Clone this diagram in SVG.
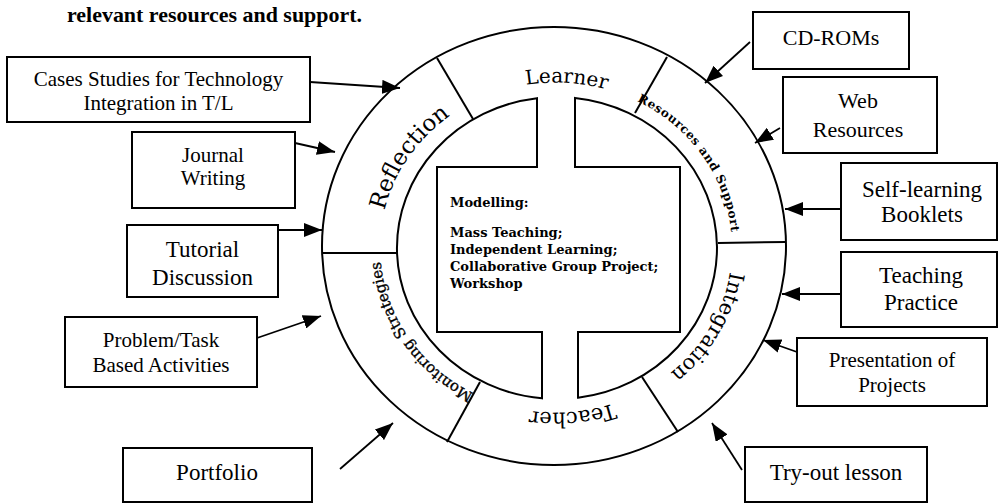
<svg xmlns="http://www.w3.org/2000/svg" xmlns:xlink="http://www.w3.org/1999/xlink" width="1000" height="503" viewBox="0 0 1000 503">
<style>
.box{fill:#fff;stroke:#000;stroke-width:2}
.bt{font-family:"Liberation Serif","Times New Roman",serif;text-anchor:middle;fill:#000}
.top{font-family:"Liberation Serif","Times New Roman",serif;font-weight:bold;font-size:21px;fill:#000}
.ring{font-family:"DejaVu Serif","Liberation Serif",serif;fill:#000}
.edge{fill:none;stroke:#000;stroke-width:2}
.conn line{stroke:#000;stroke-width:1.8;marker-end:url(#ah)}
.ct{font-family:"DejaVu Serif","Liberation Serif",serif;font-size:13px;font-weight:bold;fill:#000}
</style>
<defs>
<marker id="ah" markerUnits="userSpaceOnUse" markerWidth="18" markerHeight="14" refX="18" refY="7" orient="auto">
<path d="M0,0 L18,7 L0,14 Z" fill="#000"/>
</marker>
<path id="pLearner" d="M409.4,156.2 A176,165 0 0 1 713.6,174.1"/>
<path id="pReflection" d="M400.6,325 A176,165 0 0 1 562.1,82.6"/>
<path id="pResources" d="M546.8,82.7 A176,165 0 0 1 712.8,322.4"/>
<path id="pIntegration" d="M705.2,160.1 A176,165 0 0 1 562.1,412.4"/>
<path id="pTeacher" d="M716.2,315.9 A176,165 0 0 1 412.7,343.3"/>
<path id="pMonitoring" d="M559.2,412.5 A176,165 0 0 1 397.5,176.0"/>
</defs>
<rect width="1000" height="503" fill="#fff"/>
<text class="top" x="67" y="22" textLength="295" lengthAdjust="spacingAndGlyphs">relevant resources and support.</text>

<g id="cycle">
<ellipse class="edge" cx="554" cy="246" rx="232" ry="219" stroke-width="2.2"/>
<line class="edge" x1="437" y1="58" x2="473" y2="119"/>
<line class="edge" x1="667" y1="57" x2="635" y2="113"/>
<line class="edge" x1="718" y1="243" x2="786" y2="242"/>
<line class="edge" x1="642" y1="377" x2="678" y2="432"/>
<line class="edge" x1="480" y1="382" x2="447" y2="442"/>
<line class="edge" x1="323" y1="253" x2="398" y2="253"/>
</g>
<g id="learner"><text class="ring" font-size="20"><textPath xlink:href="#pLearner" href="#pLearner" startOffset="50%" text-anchor="middle">Learner</textPath></text></g>
<g id="reflection"><text class="ring" font-size="23"><textPath xlink:href="#pReflection" href="#pReflection" startOffset="50%" text-anchor="middle">Reflection</textPath></text></g>
<g id="resources"><text class="ring" font-size="12" font-weight="bold" letter-spacing="0.6"><textPath xlink:href="#pResources" href="#pResources" startOffset="50%" text-anchor="middle">Resources and Support</textPath></text></g>
<g id="integration"><text class="ring" font-size="21"><textPath xlink:href="#pIntegration" href="#pIntegration" startOffset="50%" text-anchor="middle">Integration</textPath></text></g>
<g id="teacher"><text class="ring" font-size="21"><textPath xlink:href="#pTeacher" href="#pTeacher" startOffset="50%" text-anchor="middle">Teacher</textPath></text></g>
<g id="monitoring"><text class="ring" font-size="15" stroke="#000" stroke-width="0.35"><textPath xlink:href="#pMonitoring" href="#pMonitoring" startOffset="50%" text-anchor="middle">Monitoring Strategies</textPath></text></g>

<g id="modelling">
<path class="box" d="M537,98.18 A160,151 0 0 0 542,398.34 V332 H437 V167 H537 Z"/>
<path class="box" d="M575,97.96 A160,151 0 0 1 578,397.69 V332 H680 V167 H575 Z"/>
<text class="ct" x="450" y="207">Modelling:</text>
<text class="ct" x="450" y="237">Mass Teaching;</text>
<text class="ct" x="450" y="254">Independent Learning;</text>
<text class="ct" x="450" y="271">Collaborative Group Project;</text>
<text class="ct" x="450" y="288">Workshop</text>
</g>

<g id="cases"><rect class="box" x="7" y="57" width="303" height="65"/>
<text class="bt" font-size="21" x="158.5" y="86">Cases Studies for Technology</text>
<text class="bt" font-size="21" x="158.5" y="110">Integration in T/L</text></g>
<g id="journal"><rect class="box" x="132" y="132" width="163" height="76"/>
<text class="bt" font-size="21" x="213" y="162">Journal</text>
<text class="bt" font-size="21" x="213" y="185">Writing</text></g>
<g id="tutorial"><rect class="box" x="127" y="225" width="151" height="72"/>
<text class="bt" font-size="23" x="202.5" y="257">Tutorial</text>
<text class="bt" font-size="23" x="202.5" y="285">Discussion</text></g>
<g id="problem"><rect class="box" x="65" y="317" width="192" height="70"/>
<text class="bt" font-size="21" x="161" y="347">Problem/Task</text>
<text class="bt" font-size="21" x="161" y="372">Based Activities</text></g>
<g id="portfolio"><rect class="box" x="123" y="448" width="189" height="54"/>
<text class="bt" font-size="23" x="217" y="480">Portfolio</text></g>
<g id="cdroms"><rect class="box" x="753" y="12" width="156" height="57"/>
<text class="bt" font-size="22" x="831" y="45">CD-ROMs</text></g>
<g id="web"><rect class="box" x="783" y="77" width="154" height="76"/>
<text class="bt" font-size="22" x="858" y="108">Web</text>
<text class="bt" font-size="22" x="858" y="137">Resources</text></g>
<g id="selflearning"><rect class="box" x="841" y="163" width="156" height="77"/>
<text class="bt" font-size="23" x="922" y="197">Self-learning</text>
<text class="bt" font-size="23" x="922" y="222">Booklets</text></g>
<g id="teaching"><rect class="box" x="841" y="252" width="156" height="75"/>
<text class="bt" font-size="23" x="921" y="283">Teaching</text>
<text class="bt" font-size="23" x="921" y="310">Practice</text></g>
<g id="presentation"><rect class="box" x="797" y="338" width="190" height="68"/>
<text class="bt" font-size="21" x="892" y="367">Presentation of</text>
<text class="bt" font-size="21" x="892" y="392">Projects</text></g>
<g id="tryout"><rect class="box" x="745" y="447" width="182" height="55"/>
<text class="bt" font-size="23" x="836" y="480">Try-out lesson</text></g>

<g id="connectors" class="conn">
<line x1="310" y1="82" x2="400" y2="88"/>
<line x1="295" y1="143" x2="335" y2="152"/>
<line x1="278" y1="230" x2="322" y2="230"/>
<line x1="257" y1="338" x2="321" y2="316"/>
<line x1="340" y1="469" x2="393" y2="423"/>
<line x1="750" y1="42" x2="705" y2="83"/>
<line x1="780" y1="128" x2="755" y2="143"/>
<line x1="841" y1="209" x2="785" y2="209"/>
<line x1="841" y1="294" x2="782" y2="294"/>
<line x1="797" y1="352" x2="763" y2="340"/>
<line x1="742" y1="470" x2="712" y2="423"/>
</g>
</svg>
